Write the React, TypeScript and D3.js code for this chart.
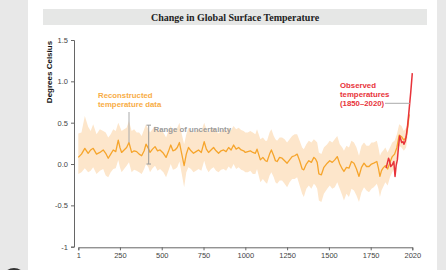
import React, { useEffect, useRef } from "react";
import * as d3 from "d3";

// reconstructed series (years, mean, uncertainty band)
const reconYears = [1, 20, 40, 60, 75, 90, 110, 130, 150, 165, 180, 195, 210, 225, 240, 250, 260, 275, 290, 304, 320, 335, 350, 365, 380, 395, 406, 420, 430, 445, 460, 475, 490, 510, 526, 540, 554, 567, 580, 593, 606, 620, 634, 647, 660, 675, 690, 705, 720, 737, 754, 767, 780, 795, 810, 825, 840, 855, 870, 885, 900, 915, 930, 945, 960, 975, 990, 1000, 1015, 1030, 1045, 1060, 1070, 1090, 1105, 1120, 1130, 1145, 1156, 1170, 1180, 1190, 1205, 1220, 1235, 1250, 1265, 1280, 1295, 1310, 1325, 1340, 1350, 1365, 1380, 1395, 1410, 1420, 1430, 1440, 1455, 1470, 1490, 1505, 1520, 1535, 1550, 1565, 1580, 1590, 1605, 1620, 1635, 1650, 1665, 1680, 1695, 1710, 1725, 1740, 1755, 1770, 1790, 1800, 1810, 1820, 1830, 1845, 1860, 1875, 1890, 1905, 1920, 1935, 1950, 1965, 1980, 1990, 2000];
const reconTemps = [0.08, 0.12, 0.19, 0.13, 0.17, 0.19, 0.12, 0.14, 0.17, 0.13, 0.07, 0.12, 0.17, 0.15, 0.29, 0.2, 0.14, 0.17, 0.2, 0.26, 0.14, 0.16, 0.15, 0.12, 0.1, 0.16, 0.24, 0.19, 0.14, 0.18, 0.21, 0.16, 0.17, 0.13, 0.08, 0.15, 0.23, 0.16, 0.17, 0.2, 0.26, 0.12, -0.02, 0.12, 0.2, 0.16, 0.13, 0.15, 0.17, 0.14, 0.27, 0.18, 0.14, 0.17, 0.2, 0.16, 0.13, 0.16, 0.17, 0.15, 0.2, 0.17, 0.23, 0.18, 0.2, 0.17, 0.16, 0.14, 0.15, 0.16, 0.14, 0.13, 0.18, 0.05, 0.08, 0.04, 0.03, 0.12, 0.17, 0.1, 0.04, 0.03, 0.08, 0.07, 0.04, 0.01, 0.05, 0.09, 0.1, 0.12, 0.04, -0.06, -0.07, 0.0, 0.04, 0.02, 0.08, 0.06, 0.02, -0.12, -0.13, -0.04, 0.01, 0.04, 0.02, 0.05, 0.09, 0.0, -0.06, -0.09, -0.04, -0.05, 0.03, 0.01, -0.06, -0.15, -0.04, 0.01, -0.03, -0.03, 0.0, 0.01, 0.03, -0.05, -0.15, -0.08, -0.05, -0.02, -0.06, 0.02, 0.09, 0.12, 0.2, 0.35, 0.33, 0.29, 0.32, 0.45, 0.6];
const reconLow = [-0.12, -0.1, -0.05, -0.1, -0.08, -0.04, -0.12, -0.08, -0.06, -0.14, -0.16, -0.1, -0.06, -0.05, 0.05, -0.04, -0.1, -0.06, -0.02, 0.02, -0.1, -0.07, -0.08, -0.1, -0.12, -0.06, 0.0, -0.04, -0.1, -0.05, -0.02, -0.08, -0.06, -0.1, -0.16, -0.08, 0.0, -0.07, -0.06, -0.04, 0.03, -0.12, -0.28, -0.1, -0.04, -0.06, -0.1, -0.08, -0.06, -0.08, 0.04, -0.05, -0.1, -0.06, -0.04, -0.08, -0.1, -0.07, -0.06, -0.08, -0.03, -0.06, 0.0, -0.06, -0.04, -0.07, -0.08, -0.1, -0.1, -0.08, -0.12, -0.12, -0.06, -0.22, -0.18, -0.22, -0.24, -0.14, -0.1, -0.16, -0.22, -0.24, -0.2, -0.2, -0.24, -0.28, -0.22, -0.18, -0.18, -0.16, -0.26, -0.36, -0.4, -0.3, -0.26, -0.3, -0.24, -0.26, -0.3, -0.44, -0.46, -0.36, -0.3, -0.26, -0.3, -0.28, -0.22, -0.3, -0.38, -0.44, -0.36, -0.4, -0.3, -0.32, -0.38, -0.46, -0.34, -0.28, -0.32, -0.34, -0.3, -0.28, -0.24, -0.3, -0.4, -0.32, -0.28, -0.22, -0.26, -0.16, -0.1, -0.05, 0.05, 0.22, 0.2, 0.16, 0.2, 0.35, 0.5];
const reconHigh = [0.37, 0.38, 0.58, 0.45, 0.4, 0.48, 0.36, 0.42, 0.4, 0.38, 0.32, 0.36, 0.42, 0.4, 0.5, 0.45, 0.4, 0.42, 0.44, 0.52, 0.4, 0.42, 0.38, 0.38, 0.34, 0.42, 0.48, 0.42, 0.38, 0.42, 0.46, 0.4, 0.42, 0.38, 0.32, 0.4, 0.46, 0.4, 0.42, 0.44, 0.5, 0.36, 0.24, 0.36, 0.44, 0.4, 0.38, 0.4, 0.42, 0.4, 0.5, 0.42, 0.38, 0.42, 0.44, 0.4, 0.37, 0.4, 0.42, 0.4, 0.44, 0.41, 0.46, 0.42, 0.44, 0.41, 0.4, 0.38, 0.38, 0.4, 0.38, 0.36, 0.42, 0.3, 0.32, 0.28, 0.28, 0.38, 0.42, 0.34, 0.3, 0.28, 0.32, 0.32, 0.3, 0.26, 0.3, 0.34, 0.36, 0.36, 0.28, 0.2, 0.18, 0.24, 0.28, 0.26, 0.3, 0.28, 0.26, 0.14, 0.12, 0.2, 0.24, 0.28, 0.26, 0.3, 0.34, 0.24, 0.2, 0.16, 0.22, 0.2, 0.28, 0.26, 0.2, 0.1, 0.22, 0.26, 0.22, 0.22, 0.26, 0.26, 0.28, 0.2, 0.1, 0.14, 0.16, 0.2, 0.14, 0.2, 0.26, 0.28, 0.36, 0.48, 0.46, 0.4, 0.44, 0.55, 0.68];

// observed series
const obsYears = [1850, 1858, 1866, 1872, 1880, 1890, 1900, 1908, 1915, 1923, 1930, 1938, 1945, 1951, 1960, 1966, 1975, 1980, 1990, 2000, 2010, 2020];
const obsTemps = [-0.05, 0.01, 0.07, 0.04, -0.03, -0.01, 0.03, -0.15, -0.02, 0.05, 0.2, 0.34, 0.3, 0.26, 0.27, 0.24, 0.28, 0.33, 0.47, 0.67, 0.87, 1.1];

const xTicks = [1, 250, 500, 750, 1000, 1250, 1500, 1750, 2020];
const yTicks = [1.5, 1.0, 0.5, 0.0, -0.5, -1];
const yTickLabels = ["1.5", "1.0", "0.5", "0.0", "-0.5", "-1"];

const W = 446;
const H = 270;

const x = d3.scaleLinear().domain([1, 1750, 2020]).range([78.3, 370.7, 412.3]);
const y = d3.scaleLinear().domain([-1, 1.5]).range([246.7, 40]);

const sans = "'Liberation Sans', Arial, sans-serif";

export default function App() {
  const xAxisRef = useRef<SVGGElement>(null);
  const yAxisRef = useRef<SVGGElement>(null);

  useEffect(() => {
    const xa = d3.select(xAxisRef.current);
    xa.selectAll("*").remove();
    xa.call(d3.axisBottom(x).tickValues(xTicks).tickFormat((d) => String(d)).tickSize(3).tickSizeOuter(3).tickPadding(2) as any);
    xa.selectAll("path, line").attr("stroke", "#666");
    xa.selectAll("text").attr("fill", "#444").attr("font-size", 7.5).attr("font-family", sans);

    const ya = d3.select(yAxisRef.current);
    ya.selectAll("*").remove();
    ya.call(d3.axisLeft(y).tickValues(yTicks).tickFormat((d, i) => yTickLabels[i]).tickSize(3).tickSizeOuter(3).tickPadding(3) as any);
    ya.selectAll("path, line").attr("stroke", "#666");
    ya.selectAll("text").attr("fill", "#444").attr("font-size", 7.5).attr("font-family", sans);
  }, []);

  const recon = reconYears.map((yr, i) => ({ yr, v: reconTemps[i], lo: reconLow[i], hi: reconHigh[i] }));
  const obs = obsYears.map((yr, i) => ({ yr, v: obsTemps[i] }));

  const band = d3.area<any>().x((d) => x(d.yr)).y0((d) => y(d.lo)).y1((d) => y(d.hi));
  const reconLine = d3.line<any>().x((d) => x(d.yr)).y((d) => y(d.v));
  const obsLine = d3.line<any>().x((d) => x(d.yr)).y((d) => y(d.v));

  return (
    <svg width={W} height={H} style={{ position: "absolute", left: 0, top: 0 }}>
      <rect x={0} y={0} width={W} height={H} fill="#e8e8e8" />
      <rect x={28} y={0} width={409} height={H} fill="#fff" />
      <circle cx={14} cy={280} r={12} fill="#333" />

      <rect x={43} y={9} width={384} height={16} fill="#e6e7e6" />
      <text x={235} y={20.5} textAnchor="middle" fontFamily="'Liberation Serif', serif" fontWeight="bold" fontSize={10} fill="#222">
        Change in Global Surface Temperature
      </text>

      <text transform="translate(51.5,72) rotate(-90)" textAnchor="middle" fontFamily={sans} fontWeight="bold" fontSize={8} fill="#111">
        Degrees Celsius
      </text>

      <path d={band(recon) ?? ""} fill="#fde6cb" />
      <path d={reconLine(recon) ?? ""} fill="none" stroke="#f6a52c" strokeWidth={1.3} strokeLinejoin="round" />
      <path d={obsLine(obs) ?? ""} fill="none" stroke="#e8333a" strokeWidth={1.5} strokeLinejoin="round" />

      <g ref={yAxisRef} transform="translate(74,0)" />
      <g ref={xAxisRef} transform="translate(0,247.3)" />

      {/* annotations */}
      <line x1={129} x2={129} y1={112} y2={y(0.26)} stroke="#aaa" strokeWidth={1} />
      <text fontFamily={sans} fontWeight="bold" fontSize={7.8} fill="#f8ad46">
        <tspan x={98} y={98}>Reconstructed</tspan>
        <tspan x={98} y={106.5}>temperature data</tspan>
      </text>

      <g stroke="#999" strokeWidth={1}>
        <line x1={148.7} x2={148.7} y1={y(0.47)} y2={y(0)} />
        <line x1={146.5} x2={151} y1={y(0.47)} y2={y(0.47)} />
        <line x1={146.5} x2={151} y1={y(0)} y2={y(0)} />
      </g>
      <text x={153.5} y={131.5} fontFamily={sans} fontWeight="bold" fontSize={7.8} fill="#9a9a9a">
        Range of uncertainty
      </text>

      <text fontFamily={sans} fontWeight="bold" fontSize={7.8} fill="#e8333a">
        <tspan x={340} y={88}>Observed</tspan>
        <tspan x={340} y={97}>temperatures</tspan>
        <tspan x={340} y={105.5}>(1850–2020)</tspan>
      </text>
      <line x1={385} x2={410} y1={103.3} y2={103.3} stroke="#aaa" strokeWidth={1} />
    </svg>
  );
}
